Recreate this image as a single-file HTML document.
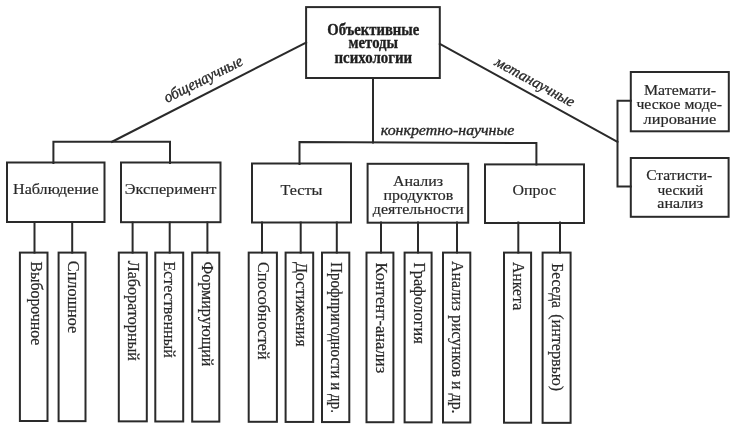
<!DOCTYPE html>
<html><head><meta charset="utf-8"><style>
html,body{margin:0;padding:0;background:#fff;}
svg{display:block;filter:blur(0.35px);}
text{font-family:"Liberation Serif",serif;fill:#282828;stroke:#282828;stroke-width:0.2px;}
.b{font-weight:bold;stroke-width:0.35px;fill:#1e1e1e;stroke:#1e1e1e;}
.i{font-style:italic;stroke-width:0.35px;}
</style></head><body>
<svg width="734" height="430" viewBox="0 0 734 430">
<g stroke="#2a2a2a" stroke-linecap="square">
<rect x="306.1" y="7.1" width="133.7" height="70.9" fill="none" stroke-width="2.0"/>
<line x1="306.1" y1="42.5" x2="112" y2="141.8" stroke-width="2.0"/>
<line x1="439.8" y1="43.8" x2="617.5" y2="142" stroke-width="2.0"/>
<polyline points="53.4,163 53.4,141.8 170,141.8 170,163" fill="none" stroke-width="2.0"/>
<line x1="373" y1="78" x2="373" y2="142.4" stroke-width="2.0"/>
<polyline points="299.5,164 299.5,142.1 536.4,143 536.4,164.5" fill="none" stroke-width="2.0"/>
<polyline points="630.8,100.8 617.5,100.8 617.5,186.5 630.8,186.5" fill="none" stroke-width="2.0"/>
<rect x="7" y="162.5" width="97.5" height="59.5" fill="none" stroke-width="2.0"/>
<rect x="121" y="162.5" width="99.5" height="59.7" fill="none" stroke-width="2.0"/>
<rect x="252" y="163.5" width="99" height="59.0" fill="none" stroke-width="2.0"/>
<rect x="367.6" y="163.8" width="100.6" height="58.9" fill="none" stroke-width="2.0"/>
<rect x="485" y="164.4" width="99" height="58.6" fill="none" stroke-width="2.0"/>
<rect x="630.8" y="72" width="98.0" height="59.3" fill="none" stroke-width="2.0"/>
<rect x="630.8" y="158" width="97.8" height="58.8" fill="none" stroke-width="2.0"/>
<rect x="19.9" y="252.6" width="27.6" height="168.4" fill="none" stroke-width="2.0"/>
<line x1="34.5" y1="222.5" x2="34.5" y2="252.6" stroke-width="2.0"/>
<rect x="58.6" y="252.6" width="26.9" height="168.54" fill="none" stroke-width="2.0"/>
<line x1="72.2" y1="222.5" x2="72.2" y2="252.6" stroke-width="2.0"/>
<rect x="118.8" y="252.6" width="28.0" height="168.75" fill="none" stroke-width="2.0"/>
<line x1="132.6" y1="222.5" x2="132.6" y2="252.6" stroke-width="2.0"/>
<rect x="155.3" y="252.6" width="27.9" height="168.88" fill="none" stroke-width="2.0"/>
<line x1="169.7" y1="222.5" x2="169.7" y2="252.6" stroke-width="2.0"/>
<rect x="192.2" y="252.6" width="27.1" height="169.01" fill="none" stroke-width="2.0"/>
<line x1="207.4" y1="222.5" x2="207.4" y2="252.6" stroke-width="2.0"/>
<rect x="248.7" y="252.6" width="28.2" height="169.2" fill="none" stroke-width="2.0"/>
<line x1="262" y1="222.5" x2="262" y2="252.6" stroke-width="2.0"/>
<rect x="285.6" y="252.6" width="27.6" height="169.33" fill="none" stroke-width="2.0"/>
<line x1="300.7" y1="222.5" x2="300.7" y2="252.6" stroke-width="2.0"/>
<rect x="322" y="252.6" width="27.3" height="169.46" fill="none" stroke-width="2.0"/>
<line x1="336.8" y1="222.5" x2="336.8" y2="252.6" stroke-width="2.0"/>
<rect x="366.5" y="252.6" width="26.9" height="169.62" fill="none" stroke-width="2.0"/>
<line x1="381" y1="222.5" x2="381" y2="252.6" stroke-width="2.0"/>
<rect x="404.6" y="252.6" width="27.0" height="169.75" fill="none" stroke-width="2.0"/>
<line x1="418" y1="222.5" x2="418" y2="252.6" stroke-width="2.0"/>
<rect x="443" y="252.6" width="27.3" height="169.89" fill="none" stroke-width="2.0"/>
<line x1="457" y1="222.5" x2="457" y2="252.6" stroke-width="2.0"/>
<rect x="504" y="252.6" width="27.1" height="170.1" fill="none" stroke-width="2.0"/>
<line x1="518.3" y1="222.5" x2="518.3" y2="252.6" stroke-width="2.0"/>
<rect x="542.6" y="252.6" width="28.0" height="170.24" fill="none" stroke-width="2.0"/>
<line x1="560" y1="222.5" x2="560" y2="252.6" stroke-width="2.0"/>
</g>
<text class="b" x="373.3" y="34.5" font-size="16" text-anchor="middle" textLength="92" lengthAdjust="spacingAndGlyphs">Объективные</text>
<text class="b" x="373.3" y="48" font-size="16" text-anchor="middle" textLength="49.5" lengthAdjust="spacingAndGlyphs">методы</text>
<text class="b" x="373.3" y="63" font-size="16" text-anchor="middle" textLength="77.5" lengthAdjust="spacingAndGlyphs">психологии</text>
<text class="r" x="55.8" y="193.7" font-size="15.6" text-anchor="middle" textLength="85.5" lengthAdjust="spacingAndGlyphs">Наблюдение</text>
<text class="r" x="170.5" y="194" font-size="15.6" text-anchor="middle" textLength="91.5" lengthAdjust="spacingAndGlyphs">Эксперимент</text>
<text class="r" x="301.5" y="194.6" font-size="15.6" text-anchor="middle" textLength="42" lengthAdjust="spacingAndGlyphs">Тесты</text>
<text class="r" x="418" y="185.9" font-size="15.6" text-anchor="middle" textLength="50" lengthAdjust="spacingAndGlyphs">Анализ</text>
<text class="r" x="418.4" y="199.9" font-size="15.6" text-anchor="middle" textLength="69.8" lengthAdjust="spacingAndGlyphs">продуктов</text>
<text class="r" x="418.3" y="213.8" font-size="15.6" text-anchor="middle" textLength="91" lengthAdjust="spacingAndGlyphs">деятельности</text>
<text class="r" x="534.3" y="194.9" font-size="15.6" text-anchor="middle" textLength="43.5" lengthAdjust="spacingAndGlyphs">Опрос</text>
<text class="r" x="680" y="95" font-size="15" text-anchor="middle" textLength="72" lengthAdjust="spacingAndGlyphs">Математи-</text>
<text class="r" x="679.2" y="108.9" font-size="15" text-anchor="middle" textLength="85.5" lengthAdjust="spacingAndGlyphs">ческое моде-</text>
<text class="r" x="680" y="123.5" font-size="15" text-anchor="middle" textLength="72.8" lengthAdjust="spacingAndGlyphs">лирование</text>
<text class="r" x="679.2" y="180.3" font-size="15.3" text-anchor="middle" textLength="66" lengthAdjust="spacingAndGlyphs">Статисти-</text>
<text class="r" x="680.4" y="195" font-size="15.3" text-anchor="middle" textLength="46" lengthAdjust="spacingAndGlyphs">ческий</text>
<text class="r" x="680.2" y="208.2" font-size="15.3" text-anchor="middle" textLength="45.8" lengthAdjust="spacingAndGlyphs">анализ</text>
<text class="i" x="380.8" y="135" font-size="14.6" text-anchor="start" textLength="133.5" lengthAdjust="spacingAndGlyphs">конкретно-научные</text>
<text class="i" x="167" y="103" font-size="16" text-anchor="start" textLength="86" lengthAdjust="spacingAndGlyphs" transform="rotate(-26.6 167 103)">общенаучные</text>
<text class="i" x="493.8" y="64.8" font-size="15.2" text-anchor="start" textLength="88.5" lengthAdjust="spacingAndGlyphs" transform="rotate(28.6 493.8 64.8)">метанаучные</text>
<text class="r" x="31.0" y="261.4" font-size="16" text-anchor="start" textLength="83.9" lengthAdjust="spacingAndGlyphs" transform="rotate(90 31.0 261.4)">Выборочное</text>
<text class="r" x="67.8" y="260.8" font-size="16" text-anchor="start" textLength="72.5" lengthAdjust="spacingAndGlyphs" transform="rotate(90 67.8 260.8)">Сплошное</text>
<text class="r" x="128.3" y="260.7" font-size="16" text-anchor="start" textLength="100.3" lengthAdjust="spacingAndGlyphs" transform="rotate(90 128.3 260.7)">Лабораторный</text>
<text class="r" x="164.3" y="261.4" font-size="16" text-anchor="start" textLength="96.5" lengthAdjust="spacingAndGlyphs" transform="rotate(90 164.3 261.4)">Естественный</text>
<text class="r" x="202.3" y="261.4" font-size="16" text-anchor="start" textLength="105.1" lengthAdjust="spacingAndGlyphs" transform="rotate(90 202.3 261.4)">Формирующий</text>
<text class="r" x="257.6" y="262.1" font-size="16" text-anchor="start" textLength="97.4" lengthAdjust="spacingAndGlyphs" transform="rotate(90 257.6 262.1)">Способностей</text>
<text class="r" x="296.2" y="261.9" font-size="16" text-anchor="start" textLength="84.7" lengthAdjust="spacingAndGlyphs" transform="rotate(90 296.2 261.9)">Достижения</text>
<text class="r" x="330.8" y="262.2" font-size="16" text-anchor="start" textLength="150.7" lengthAdjust="spacingAndGlyphs" transform="rotate(90 330.8 262.2)">Профпригодности и др.</text>
<text class="r" x="375.9" y="262.5" font-size="16" text-anchor="start" textLength="110.7" lengthAdjust="spacingAndGlyphs" transform="rotate(90 375.9 262.5)">Контент-анализ</text>
<text class="r" x="414.2" y="262.4" font-size="16" text-anchor="start" textLength="81.3" lengthAdjust="spacingAndGlyphs" transform="rotate(90 414.2 262.4)">Графология</text>
<text class="r" x="452.2" y="261.1" font-size="16" text-anchor="start" textLength="152.5" lengthAdjust="spacingAndGlyphs" transform="rotate(90 452.2 261.1)">Анализ рисунков и др.</text>
<text class="r" x="513.3" y="261.9" font-size="16" text-anchor="start" textLength="48.4" lengthAdjust="spacingAndGlyphs" transform="rotate(90 513.3 261.9)">Анкета</text>
<text class="r" x="552.2" y="263.3" font-size="16" text-anchor="start" textLength="44.7" lengthAdjust="spacingAndGlyphs" transform="rotate(90 552.2 263.3)">Беседа</text>
<text class="r" x="552.2" y="314.2" font-size="16" text-anchor="start" textLength="77" lengthAdjust="spacingAndGlyphs" transform="rotate(90 552.2 314.2)">(интервью)</text>
</svg>
</body></html>
